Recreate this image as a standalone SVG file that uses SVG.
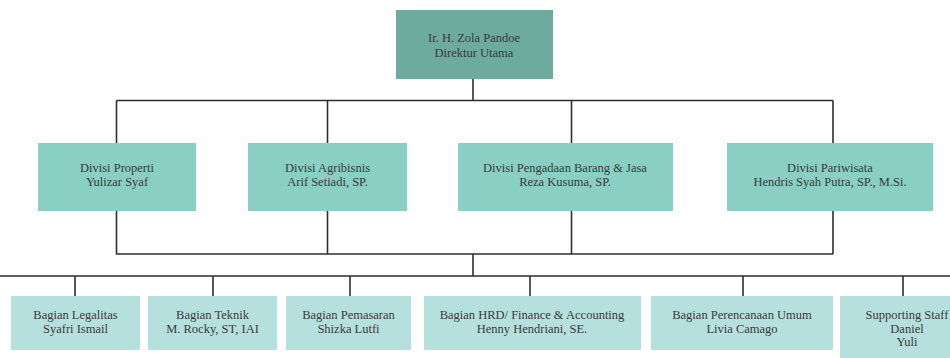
<svg xmlns="http://www.w3.org/2000/svg" width="950" height="358" viewBox="0 0 950 358">
<style>
.t{font-family:"Liberation Serif","Times New Roman",serif;font-size:12.5px;fill:#3a3a3a;text-anchor:middle}
.top{fill:#6dab9e}
.div{fill:#89cfc4}
.bag{fill:#b6e0de}
.ln{stroke:#2e2e2e;stroke-width:1.6;fill:none}
</style>
<rect width="950" height="358" fill="#ffffff"/>
<g id="connectors" class="ln">
<path d="M473 79V100.5M116.5 100.5H833M116.5 100.5V143M327.5 100.5V143M571.5 100.5V143M833 100.5V143"/>
<path d="M116.5 211V254H833M327.5 211V254M571.5 211V254M833 211V254M473 254V276"/>
<path d="M0 276H950M75 276V296M213 276V296M350 276V296M530 276V296M743 276V296M903 276V296"/>
</g>
<g id="direktur"><rect class="top" x="396" y="10" width="157" height="69"/><text class="t" x="474" y="42">Ir. H. Zola Pandoe</text><text class="t" x="474" y="57">Direktur Utama</text></g>
<g id="properti"><rect class="div" x="38" y="143" width="158" height="68"/><text class="t" x="117" y="172">Divisi Properti</text><text class="t" x="117" y="186">Yulizar Syaf</text></g>
<g id="agribisnis"><rect class="div" x="248" y="143" width="159" height="68"/><text class="t" x="327.5" y="172">Divisi Agribisnis</text><text class="t" x="327.5" y="186">Arif Setiadi, SP.</text></g>
<g id="pengadaan"><rect class="div" x="458" y="143" width="215" height="68"/><text class="t" x="565" y="172">Divisi Pengadaan Barang &amp; Jasa</text><text class="t" x="565" y="186">Reza Kusuma, SP.</text></g>
<g id="pariwisata"><rect class="div" x="727" y="143" width="206" height="68"/><text class="t" x="830" y="172">Divisi Pariwisata</text><text class="t" x="830" y="186">Hendris Syah Putra, SP., M.Si.</text></g>
<g id="legalitas"><rect class="bag" x="11" y="296" width="129" height="54"/><text class="t" x="75.5" y="319">Bagian Legalitas</text><text class="t" x="75.5" y="333">Syafri Ismail</text></g>
<g id="teknik"><rect class="bag" x="148" y="296" width="129" height="54"/><text class="t" x="212.5" y="319">Bagian Teknik</text><text class="t" x="212.5" y="333">M. Rocky, ST, IAI</text></g>
<g id="pemasaran"><rect class="bag" x="286" y="296" width="125" height="54"/><text class="t" x="348.5" y="319">Bagian Pemasaran</text><text class="t" x="348.5" y="333">Shizka Lutfi</text></g>
<g id="hrd"><rect class="bag" x="424" y="296" width="217" height="54"/><text class="t" x="532" y="319">Bagian HRD/ Finance &amp; Accounting</text><text class="t" x="532" y="333">Henny Hendriani, SE.</text></g>
<g id="perencanaan"><rect class="bag" x="651" y="296" width="182" height="54"/><text class="t" x="742" y="319">Bagian Perencanaan Umum</text><text class="t" x="742" y="333">Livia Camago</text></g>
<g id="supporting"><rect class="bag" x="840" y="296" width="135" height="62"/><text class="t" x="907" y="319">Supporting Staff</text><text class="t" x="907" y="332.5">Daniel</text><text class="t" x="907" y="346">Yuli</text></g>
</svg>
